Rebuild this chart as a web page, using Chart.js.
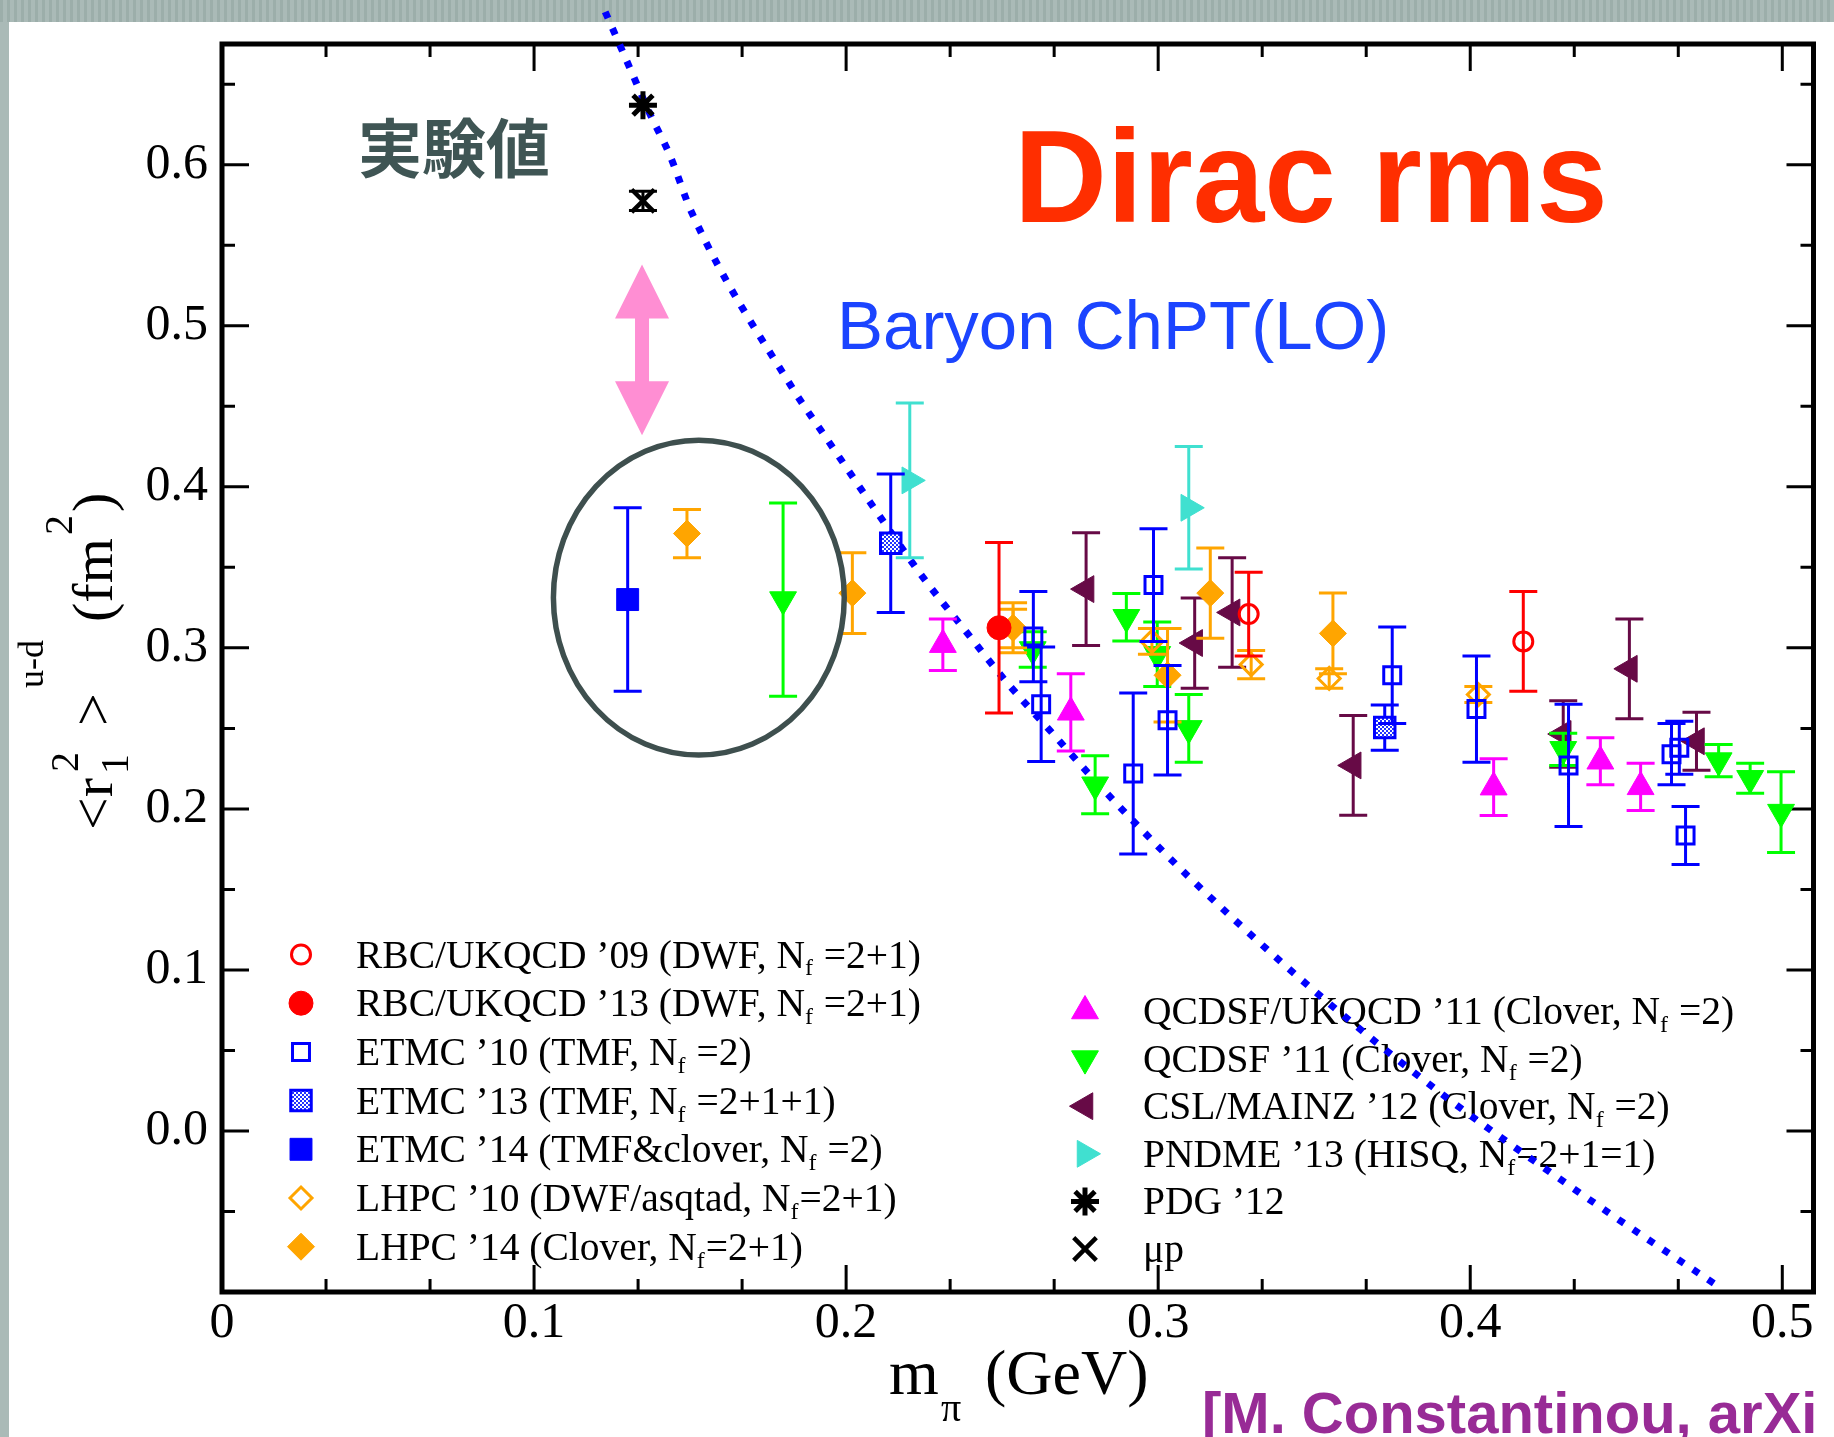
<!DOCTYPE html>
<html>
<head>
<meta charset="utf-8">
<script src="https://cdn.jsdelivr.net/npm/chart.js@4.4.1/dist/chart.umd.min.js"></script>
<style>
html, body { margin: 0; padding: 0; background: #fff; }
#wrap { width: 1834px; height: 1437px; }
</style>
</head>
<body>
<div id="wrap"><canvas id="c" width="1834" height="1437"></canvas></div>
<script>
// each point: [m_pi (GeV), <r1^2>^{u-d} (fm^2), error]
const rbc09 = [[0.329, 0.321, 0.026], [0.417, 0.304, 0.031]];
const rbc13 = [[0.249, 0.3125, 0.053]];
const etmc10 = [
  [0.260, 0.307, 0.028], [0.2625, 0.265, 0.0355], [0.292, 0.222, 0.050],
  [0.2985, 0.339, 0.035], [0.303, 0.255, 0.034], [0.375, 0.283, 0.030],
  [0.402, 0.262, 0.033], [0.4315, 0.227, 0.038], [0.4645, 0.234, 0.019],
  [0.467, 0.238, 0.0165], [0.469, 0.1835, 0.018]
];
const etmc13 = [[0.2143, 0.365, 0.043], [0.3726, 0.2505, 0.014]];
const etmc14 = [[0.130, 0.330, 0.057]];
const lhpc10 = [[0.2535, 0.312, 0.012], [0.298, 0.304, 0.008], [0.3298, 0.2896, 0.0087], [0.3548, 0.281, 0.006], [0.4026, 0.271, 0.005]];
const lhpc14 = [[0.149, 0.371, 0.015], [0.202, 0.334, 0.025], [0.2535, 0.3125, 0.0155], [0.303, 0.283, 0.029], [0.3167, 0.334, 0.028], [0.356, 0.309, 0.025]];
const qcdsfUkqcd11 = [[0.231, 0.302, 0.016], [0.272, 0.260, 0.024], [0.4075, 0.2135, 0.0176], [0.4417, 0.2296, 0.0146], [0.4546, 0.2137, 0.0147]];
const qcdsf11 = [
  [0.1798, 0.330, 0.060], [0.2598, 0.299, 0.011], [0.2798, 0.215, 0.018],
  [0.2898, 0.319, 0.0147], [0.2997, 0.296, 0.020], [0.3098, 0.250, 0.021],
  [0.4298, 0.237, 0.010], [0.4796, 0.230, 0.010], [0.4897, 0.219, 0.0093], [0.4996, 0.198, 0.025]
];
const cslMainz12 = [[0.2769, 0.3365, 0.035], [0.3117, 0.303, 0.028], [0.3237, 0.322, 0.034], [0.3625, 0.227, 0.031], [0.4298, 0.2465, 0.0206], [0.451, 0.287, 0.031], [0.4725, 0.242, 0.018]];
const pndme13 = [[0.2204, 0.404, 0.048], [0.3098, 0.387, 0.038]];
const pdg12 = [[0.1349, 0.637, 0]];
const muP = [[0.1349, 0.5776, 0.006]];

// Baryon ChPT (LO) curve
const chptX = [0.1228, 0.1306, 0.1371, 0.1435, 0.1506, 0.1826, 0.1948, 0.2097, 0.2247, 0.2382, 0.2514, 0.2657, 0.2798, 0.2944, 0.3095, 0.3406, 0.3695, 0.3949, 0.4204, 0.4467, 0.4795];
const chptY = [0.695, 0.6605, 0.6317, 0.606, 0.570, 0.4619, 0.427, 0.3848, 0.3436, 0.3107, 0.2788, 0.2479, 0.2175, 0.1877, 0.1584, 0.1029, 0.0556, 0.0171, -0.0185, -0.0539, -0.0965];

const xTicks = [0, 0.1, 0.2, 0.3, 0.4, 0.5];
const yTicks = [0, 0.1, 0.2, 0.3, 0.4, 0.5, 0.6];

const legendLeft = [
  'RBC/UKQCD ’09 (DWF, N_f =2+1)',
  'RBC/UKQCD ’13 (DWF, N_f =2+1)',
  'ETMC ’10 (TMF, N_f =2)',
  'ETMC ’13 (TMF, N_f =2+1+1)',
  'ETMC ’14 (TMF&clover, N_f =2)',
  'LHPC ’10 (DWF/asqtad, N_f=2+1)',
  'LHPC ’14 (Clover, N_f=2+1)'
];
const legendRight = [
  'QCDSF/UKQCD ’11 (Clover, N_f =2)',
  'QCDSF ’11 (Clover, N_f =2)',
  'CSL/MAINZ ’12 (Clover, N_f =2)',
  'PNDME ’13 (HISQ, N_f=2+1=1)',
  'PDG ’12',
  'μp'
];

const serif = '"Liberation Serif", "Times New Roman", serif';
const sans = '"Liberation Sans", Arial, sans-serif';

const canvas = document.getElementById('c');
const hatch = document.createElement('canvas');
hatch.width = 4; hatch.height = 4;
const hctx = hatch.getContext('2d');
hctx.fillStyle = '#ffffff'; hctx.fillRect(0, 0, 4, 4);
hctx.fillStyle = '#2233ff'; hctx.fillRect(0, 0, 2, 2); hctx.fillRect(2, 2, 2, 2);
const hatchFill = canvas.getContext('2d').createPattern(hatch, 'repeat');

function series(label, pts, color, style, r, fill, bw, rot) {
  return {
    label: label,
    data: pts.map(p => ({x: p[0], y: p[1]})),
    err: pts.map(p => p[2]),
    errColor: color,
    showLine: false,
    pointStyle: style,
    pointRadius: r,
    pointHoverRadius: r,
    pointRotation: rot || 0,
    pointBorderColor: color,
    pointBackgroundColor: fill,
    pointBorderWidth: bw
  };
}

const none = 'rgba(0,0,0,0)';
const purple = '#670a46';
const datasets = [
  series('RBC09', rbc09, '#ff0000', 'circle', 9.5, none, 3),
  series('RBC13', rbc13, '#ff0000', 'circle', 12, '#ff0000', 1),
  series('ETMC10', etmc10, '#0000ff', 'rect', 12, none, 3),
  series('ETMC13', etmc13, '#0000ff', 'rect', 14.5, hatchFill, 3),
  series('ETMC14', etmc14, '#0000ff', 'rect', 15.5, '#0000ff', 1),
  series('LHPC10', lhpc10, '#ffa500', 'rectRot', 11, none, 3),
  series('LHPC14', lhpc14, '#ffa500', 'rectRot', 13.5, '#ffa500', 1),
  series('QCDSF/UKQCD11', qcdsfUkqcd11, '#ff00ff', 'triangle', 15.5, '#ff00ff', 1),
  series('QCDSF11', qcdsf11, '#00ff00', 'triangle', 15.5, '#00ff00', 1, 180),
  series('CSL/MAINZ12', cslMainz12, purple, 'triangle', 15.5, purple, 1, -90),
  series('PNDME13', pndme13, '#40e0d0', 'triangle', 15.5, '#40e0d0', 1, 90),
  series('PDG12', pdg12, '#000000', 'star', 14, '#000000', 5),
  series('muP', muP, '#000000', 'crossRot', 16, '#000000', 4.5),
  {
    label: 'ChPT',
    data: chptX.map((v, i) => ({x: v, y: chptY[i]})),
    showLine: true,
    borderColor: '#0000ff',
    borderWidth: 7,
    borderDash: [7, 11],
    borderCapStyle: 'butt',
    cubicInterpolationMode: 'monotone',
    pointRadius: 0,
    pointHoverRadius: 0,
    clip: false
  }
];

const bgPlugin = {
  id: 'bg',
  beforeDraw(chart) {
    const ctx = chart.ctx, W = chart.width, H = chart.height;
    ctx.save();
    ctx.fillStyle = '#ffffff';
    ctx.fillRect(0, 0, W, H);
    ctx.fillStyle = '#aabab7';
    ctx.fillRect(0, 0, W, 22);
    ctx.fillRect(0, 0, 9, H);
    ctx.fillStyle = 'rgba(110,130,126,0.22)';
    for (let i = 0; i < W; i += 7) ctx.fillRect(i, 0, 3, 22);
    ctx.restore();
  }
};

const framePlugin = {
  id: 'frame',
  beforeDatasetsDraw(chart) {
    const {ctx, chartArea: a, scales: {x, y}} = chart;
    ctx.save();
    ctx.strokeStyle = '#000';
    ctx.lineWidth = 3;
    ctx.beginPath();
    for (let i = 1; i < 16; i++) {
      const px = x.getPixelForValue(i / 30);
      const len = i % 3 === 0 ? 27 : 13;
      ctx.moveTo(px, a.bottom); ctx.lineTo(px, a.bottom - len);
      ctx.moveTo(px, a.top); ctx.lineTo(px, a.top + len);
    }
    for (let i = -1; i < 14; i++) {
      const py = y.getPixelForValue(i * 0.05);
      const len = i % 2 === 0 ? 27 : 13;
      ctx.moveTo(a.left, py); ctx.lineTo(a.left + len, py);
      ctx.moveTo(a.right, py); ctx.lineTo(a.right - len, py);
    }
    ctx.stroke();
    ctx.lineWidth = 5;
    ctx.strokeRect(a.left, a.top, a.right - a.left, a.bottom - a.top);
    ctx.restore();

    // legend
    drawLegend(chart, legendLeft, 0, 301, 356, 954.5, 48.7);
    drawLegend(chart, legendRight, 7, 1085, 1143, 1011, 47.6);
  }
};

function drawMarker(ctx, ds, px, py) {
  ctx.save();
  ctx.fillStyle = ds.pointBackgroundColor;
  ctx.strokeStyle = ds.pointBorderColor;
  ctx.lineWidth = ds.pointBorderWidth;
  Chart.helpers.drawPoint(ctx, {
    pointStyle: ds.pointStyle, rotation: ds.pointRotation,
    radius: ds.pointRadius, borderWidth: ds.pointBorderWidth
  }, px, py);
  ctx.restore();
}

function drawSubText(ctx, text, px, baseline, size) {
  const parts = text.split('_f');
  ctx.font = size + 'px ' + serif;
  ctx.fillText(parts[0], px, baseline);
  let w = ctx.measureText(parts[0]).width;
  if (parts.length > 1) {
    ctx.font = Math.round(size * 0.62) + 'px ' + serif;
    ctx.fillText('f', px + w, baseline + size * 0.2);
    w += ctx.measureText('f').width + 1;
    ctx.font = size + 'px ' + serif;
    ctx.fillText(parts[1], px + w, baseline);
  }
}

function drawLegend(chart, labels, first, mx, tx, y0, step) {
  const ctx = chart.ctx;
  labels.forEach((lab, i) => {
    const py = y0 + i * step;
    drawMarker(ctx, chart.data.datasets[first + i], mx, py);
    ctx.save();
    ctx.fillStyle = '#000';
    ctx.textBaseline = 'alphabetic';
    drawSubText(ctx, lab, tx, py + 13, 39.5);
    ctx.restore();
  });
}

const errPlugin = {
  id: 'errbars',
  beforeDatasetDraw(chart, args) {
    const ds = chart.data.datasets[args.index];
    if (!ds.err) return;
    const {ctx, scales: {x, y}} = chart;
    ctx.save();
    ctx.strokeStyle = ds.errColor;
    ctx.lineWidth = 3;
    ctx.beginPath();
    ds.data.forEach((p, i) => {
      const e = ds.err[i];
      if (!e) return;
      const px = x.getPixelForValue(p.x);
      const y1 = y.getPixelForValue(p.y + e), y2 = y.getPixelForValue(p.y - e);
      ctx.moveTo(px, y1); ctx.lineTo(px, y2);
      ctx.moveTo(px - 14, y1); ctx.lineTo(px + 14, y1);
      ctx.moveTo(px - 14, y2); ctx.lineTo(px + 14, y2);
    });
    ctx.stroke();
    ctx.restore();
  }
};

const notePlugin = {
  id: 'notes',
  afterDatasetsDraw(chart) {
    const {ctx, scales: {x, y}} = chart;
    ctx.save();
    // circle round the physical-point results
    const cx = x.getPixelForValue(0.1528), cy = y.getPixelForValue(0.3312);
    const rx = x.getPixelForValue(0.1528 + 0.0466) - cx;
    const ry = cy - y.getPixelForValue(0.3312 + 0.0978);
    ctx.strokeStyle = '#3e4f4e';
    ctx.lineWidth = 5.5;
    ctx.beginPath();
    ctx.ellipse(cx, cy, rx, ry, 0, 0, Math.PI * 2);
    ctx.stroke();

    // pink double arrow
    const ax = x.getPixelForValue(0.1346);
    const aTop = y.getPixelForValue(0.538), aBot = y.getPixelForValue(0.4321);
    const head = 54, hw = 27, sw = 7;
    ctx.fillStyle = '#ff8ed3';
    ctx.beginPath();
    ctx.moveTo(ax, aTop);
    ctx.lineTo(ax + hw, aTop + head);
    ctx.lineTo(ax + sw, aTop + head);
    ctx.lineTo(ax + sw, aBot - head);
    ctx.lineTo(ax + hw, aBot - head);
    ctx.lineTo(ax, aBot);
    ctx.lineTo(ax - hw, aBot - head);
    ctx.lineTo(ax - sw, aBot - head);
    ctx.lineTo(ax - sw, aTop + head);
    ctx.lineTo(ax - hw, aTop + head);
    ctx.closePath();
    ctx.fill();

    ctx.textBaseline = 'alphabetic';
    ctx.fillStyle = '#3f5554';
    ctx.font = 'bold 64px "Noto Sans CJK JP", "Noto Sans CJK SC", sans-serif';
    ctx.fillText('実験値', 358, 172);

    ctx.fillStyle = '#ff2e00';
    ctx.font = 'bold 132px ' + sans;
    ctx.save();
    ctx.translate(1014, 222);
    ctx.scale(0.975, 1);
    ctx.fillText('Dirac rms', 0, 0);
    ctx.restore();

    ctx.fillStyle = '#1b44ff';
    ctx.font = '69px ' + sans;
    ctx.fillText('Baryon ChPT(LO)', 837, 349);
    ctx.restore();
  },
  afterDraw(chart) {
    const ctx = chart.ctx;
    ctx.save();
    ctx.fillStyle = '#000';
    ctx.textBaseline = 'alphabetic';
    // x title: m_pi (GeV)
    ctx.font = '64px ' + serif;
    ctx.fillText('m', 889, 1394);
    ctx.fillText('(GeV)', 985, 1394);
    ctx.font = '40px ' + serif;
    ctx.fillText('π', 941, 1421);

    // y title: <r_1^2>^{u-d} (fm^2), rotated
    ctx.translate(112, 830);
    ctx.rotate(-Math.PI / 2);
    const big = '58px ' + serif, small = '40px ' + serif;
    const runs = [
      ['<r', big, 0, 0], ['1', small, 56, 16], ['2', small, 58, -34],
      ['>', big, 104, 0], ['u-d', '36px ' + serif, 142, -69],
      ['(fm', big, 208, 0], ['2', small, 295, -40], [')', big, 318, 0]
    ];
    runs.forEach(r => { ctx.font = r[1]; ctx.fillText(r[0], r[2], r[3]); });
    ctx.restore();

    ctx.save();
    ctx.fillStyle = '#982b96';
    ctx.font = 'bold 58px ' + sans;
    ctx.textBaseline = 'alphabetic';
    ctx.fillText('[M. Constantinou, arXi', 1202, 1433);
    ctx.restore();
  }
};

new Chart(canvas, {
  type: 'scatter',
  data: {datasets: datasets},
  options: {
    responsive: false,
    animation: false,
    devicePixelRatio: 1,
    events: [],
    layout: {padding: {top: 36, right: 13, left: 0, bottom: 0}},
    plugins: {legend: {display: false}, tooltip: {enabled: false}},
    scales: {
      x: {
        type: 'linear', position: 'bottom', min: 0, max: 0.51,
        afterBuildTicks: s => { s.ticks = xTicks.map(v => ({value: v})); },
        afterFit: s => { s.height = 145; },
        grid: {display: false, drawTicks: false},
        border: {display: false},
        ticks: {
          autoSkip: false, maxRotation: 0, padding: 2, color: '#000',
          font: {family: serif, size: 50},
          callback: v => v === 0 ? '0' : v.toFixed(1)
        }
      },
      y: {
        type: 'linear', position: 'left', min: -0.1, max: 0.675,
        afterBuildTicks: s => { s.ticks = yTicks.map(v => ({value: v})); },
        afterFit: s => { s.width = 222; },
        grid: {display: false, drawTicks: false},
        border: {display: false},
        ticks: {
          autoSkip: false, padding: 14, color: '#000',
          font: {family: serif, size: 50},
          callback: v => v.toFixed(1)
        }
      }
    }
  },
  plugins: [bgPlugin, framePlugin, errPlugin, notePlugin]
});
</script>
</body>
</html>
